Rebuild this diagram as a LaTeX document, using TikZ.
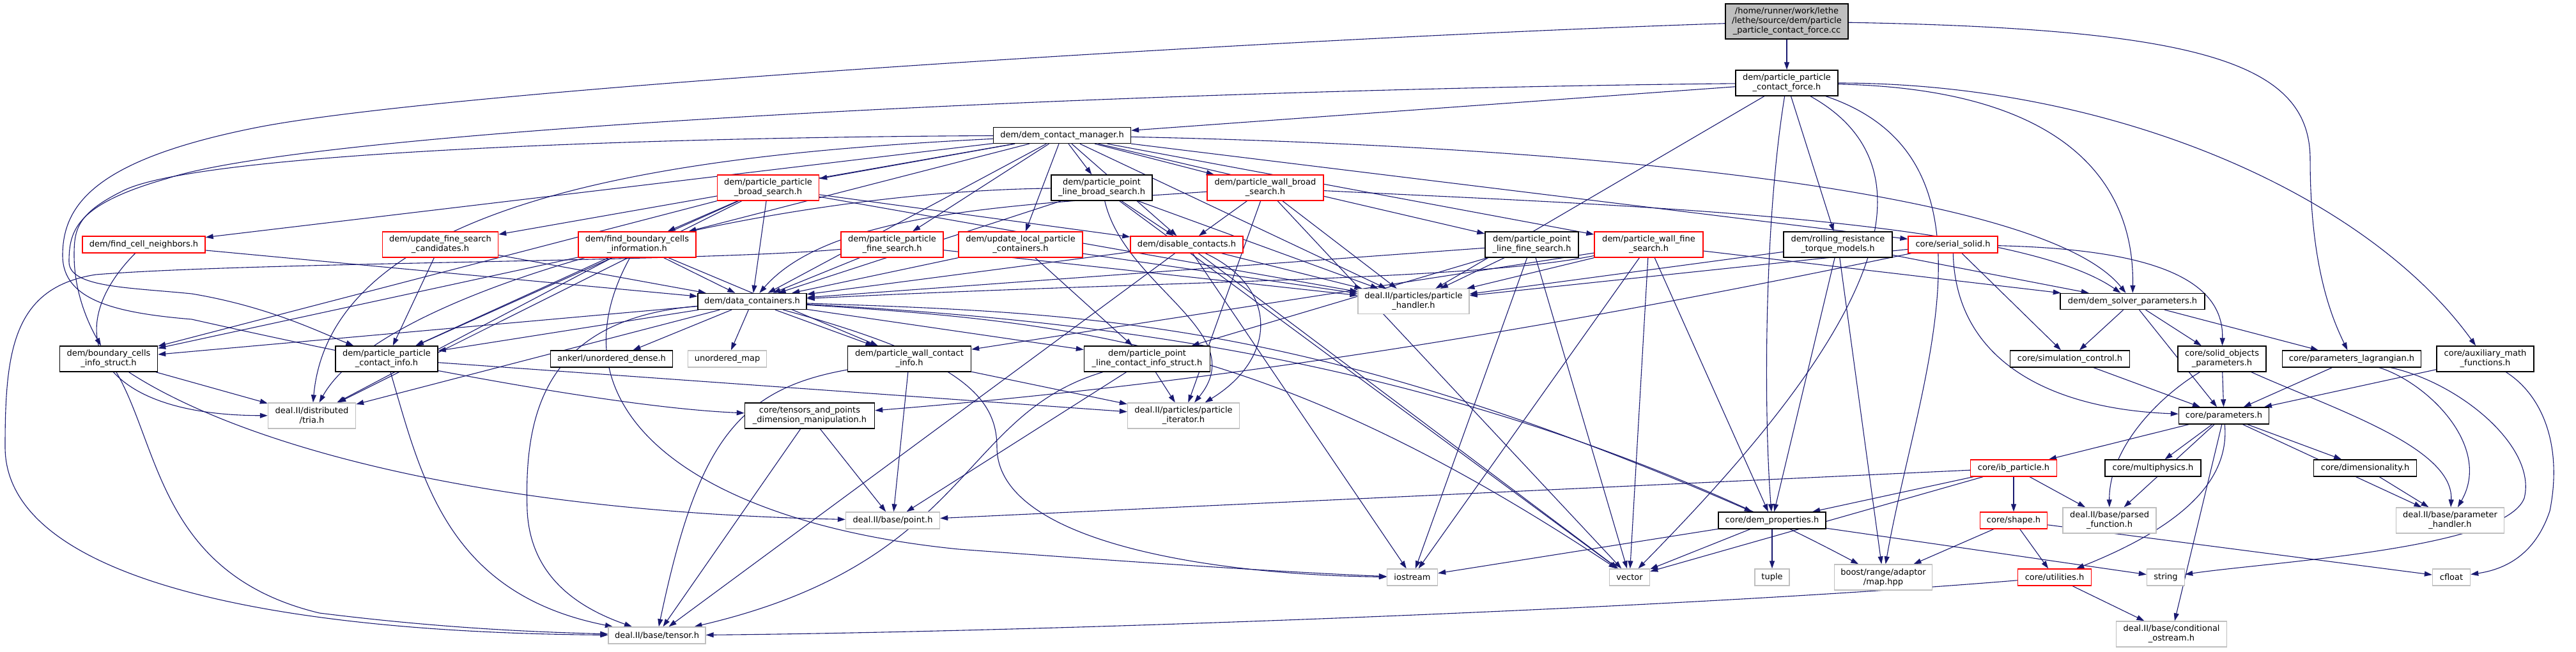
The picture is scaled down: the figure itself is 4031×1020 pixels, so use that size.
\documentclass[tikz,border=0pt]{standalone}
\usepackage{fontspec}
\setmainfont{DejaVu Sans}
\usetikzlibrary{arrows.meta}
\definecolor{edgec}{HTML}{191970}
\definecolor{ngray}{HTML}{BFBFBF}
\pgfdeclarelayer{bg}
\pgfsetlayers{bg,main}
\tikzset{
 nb/.style={draw=black, line width=1.4pt, fill=white, inner sep=0pt, align=center, font=\fontsize{13}{15}\selectfont, text=black},
 nr/.style={nb, draw=red},
 ng/.style={nb, draw=ngray},
 e/.style={draw=edgec, line width=1.1pt, -{Triangle[length=12pt,width=8pt]}},
}
\begin{document}
\begin{tikzpicture}[x=1pt,y=-1pt]
\useasboundingbox (0,0) rectangle (4031,1020);
% rank 0-2
\node[nb, fill=ngray, minimum width=192pt, minimum height=55pt] (cc) at (2796,33.5) {/home/runner/work/lethe\\/lethe/source/dem/particle\\\_particle\_contact\_force.cc};
\node[nb, minimum width=160pt, minimum height=40pt] (ppcf) at (2796,130) {dem/particle\_particle\\\_contact\_force.h};
\node[nb, minimum width=215pt, minimum height=25pt] (dcm) at (1662,212) {dem/dem\_contact\_manager.h};
% rank 3
\node[nr, minimum width=159pt, minimum height=40pt] (ppbs) at (1202,294) {dem/particle\_particle\\\_broad\_search.h};
\node[nb, minimum width=158pt, minimum height=40pt] (pplbs) at (1724,294) {dem/particle\_point\\\_line\_broad\_search.h};
\node[nr, minimum width=182pt, minimum height=40pt] (pwbs) at (1980,294) {dem/particle\_wall\_broad\\\_search.h};
% rank 4
\node[nr, minimum width=192pt, minimum height=26pt] (fcn) at (225,383) {dem/find\_cell\_neighbors.h};
\node[nr, minimum width=181pt, minimum height=40pt] (ufsc) at (689,383) {dem/update\_fine\_search\\\_candidates.h};
\node[nr, minimum width=184pt, minimum height=40pt] (fbci) at (997,383) {dem/find\_boundary\_cells\\\_information.h};
\node[nr, minimum width=160pt, minimum height=40pt] (ppfs) at (1396,383) {dem/particle\_particle\\\_fine\_search.h};
\node[nr, minimum width=194pt, minimum height=40pt] (ulpc) at (1597,383) {dem/update\_local\_particle\\\_containers.h};
\node[nr, minimum width=176pt, minimum height=26pt] (dc) at (1857,383) {dem/disable\_contacts.h};
\node[nb, minimum width=146pt, minimum height=40pt] (pplfs) at (2397,383) {dem/particle\_point\\\_line\_fine\_search.h};
\node[nr, minimum width=170pt, minimum height=40pt] (pwfs) at (2580,383) {dem/particle\_wall\_fine\\\_search.h};
\node[nb, minimum width=170pt, minimum height=40pt] (rrtm) at (2876,383) {dem/rolling\_resistance\\\_torque\_models.h};
\node[nr, minimum width=140pt, minimum height=26pt] (ss) at (3056,383) {core/serial\_solid.h};
% rank 5
\node[nb, minimum width=170pt, minimum height=25pt] (dcont) at (1177,472) {dem/data\_containers.h};
\node[ng, minimum width=174pt, minimum height=39pt] (ph) at (2212,472) {deal.II/particles/particle\\\_handler.h};
\node[nb, minimum width=226pt, minimum height=25pt] (dsp) at (3337,472) {dem/dem\_solver\_parameters.h};
% rank 6
\node[nb, minimum width=153pt, minimum height=40pt] (bcis) at (170,562) {dem/boundary\_cells\\\_info\_struct.h};
\node[nb, minimum width=160pt, minimum height=40pt] (ppci) at (605,562) {dem/particle\_particle\\\_contact\_info.h};
\node[nb, minimum width=191pt, minimum height=26pt] (aud) at (957,562) {ankerl/unordered\_dense.h};
\node[ng, minimum width=123pt, minimum height=26pt] (um) at (1138,562) {unordered\_map};
\node[nb, minimum width=193pt, minimum height=40pt] (pwci) at (1423,562) {dem/particle\_wall\_contact\\\_info.h};
\node[nb, minimum width=197pt, minimum height=40pt] (pplci) at (1795,562) {dem/particle\_point\\\_line\_contact\_info\_struct.h};
\node[nb, minimum width=187pt, minimum height=26pt] (sc) at (3239,562) {core/simulation\_control.h};
\node[nb, minimum width=138pt, minimum height=40pt] (sop) at (3477,562) {core/solid\_objects\\\_parameters.h};
\node[nb, minimum width=217pt, minimum height=26pt] (pl) at (3680,562) {core/parameters\_lagrangian.h};
\node[nb, minimum width=152pt, minimum height=40pt] (amf) at (3889,562) {core/auxiliary\_math\\\_functions.h};
% rank 7
\node[ng, minimum width=137pt, minimum height=40pt] (tria) at (488,651) {deal.II/distributed\\/tria.h};
\node[nb, minimum width=203pt, minimum height=40pt] (tpdm) at (1267,651) {core/tensors\_and\_points\\\_dimension\_manipulation.h};
\node[ng, minimum width=175pt, minimum height=40pt] (pi) at (1852,651) {deal.II/particles/particle\\\_iterator.h};
\node[nb, minimum width=141pt, minimum height=26pt] (par) at (3480,651) {core/parameters.h};
% rank 8
\node[nr, minimum width=135pt, minimum height=26pt] (ibp) at (3151,733) {core/ib\_particle.h};
\node[nb, minimum width=150pt, minimum height=26pt] (mp) at (3369,733) {core/multiphysics.h};
\node[nb, minimum width=161pt, minimum height=26pt] (dim) at (3701,733) {core/dimensionality.h};
% rank 9
\node[ng, minimum width=147pt, minimum height=26pt] (point) at (1397,815) {deal.II/base/point.h};
\node[nb, minimum width=168pt, minimum height=26pt] (demp) at (2773,815) {core/dem\_properties.h};
\node[nr, minimum width=105pt, minimum height=26pt] (shape) at (3151,815) {core/shape.h};
\node[ng, minimum width=146pt, minimum height=40pt] (pf) at (3301,815) {deal.II/base/parsed\\\_function.h};
\node[ng, minimum width=169pt, minimum height=40pt] (phh) at (3834,815) {deal.II/base/parameter\\\_handler.h};
% rank 10
\node[ng, minimum width=79pt, minimum height=26pt] (ios) at (2210,904) {iostream};
\node[ng, minimum width=63pt, minimum height=26pt] (vec) at (2550,904) {vector};
\node[ng, minimum width=54pt, minimum height=26pt] (tuple) at (2773,904) {tuple};
\node[ng, minimum width=153pt, minimum height=40pt] (boost) at (2947,904) {boost/range/adaptor\\/map.hpp};
\node[nr, minimum width=115pt, minimum height=26pt] (util) at (3215,904) {core/utilities.h};
\node[ng, minimum width=59pt, minimum height=26pt] (str) at (3389,904) {string};
\node[ng, minimum width=59pt, minimum height=26pt] (cfl) at (3836,904) {cfloat};
% rank 11
\node[ng, minimum width=173pt, minimum height=40pt] (cos) at (3398,993) {deal.II/base/conditional\\\_ostream.h};
\node[ng, minimum width=152pt, minimum height=26pt] (tensor) at (1028,995) {deal.II/base/tensor.h};

\begin{pgfonlayer}{bg}
% cc
\draw[e] (cc) -- (ppcf);
\draw[e] (cc) .. controls (3450,45) and (3615,100) .. (3615,250) .. controls (3615,420) and (3650,500) .. (pl);
\draw[e] (cc) .. controls (2000,60) and (700,140) .. (400,200) .. controls (150,250) and (98,320) .. (98,400) .. controls (98,470) and (180,490) .. (300,500) .. controls (700,590) and (1000,640) .. (tpdm);
% ppcf
\draw[e] (ppcf) -- (dcm);
\draw[e] (ppcf) .. controls (1800,140) and (500,200) .. (260,280) .. controls (120,320) and (108,360) .. (108,410) .. controls (108,450) and (200,450) .. (300,460) .. controls (420,480) and (500,520) .. (ppci);
\foreach \t in {ph,rrtm} \draw[e] (ppcf) -- (\t);
\draw[e] (ppcf) .. controls (2760,350) and (2760,650) .. (demp);
\draw[e] (ppcf) .. controls (3250,140) and (3340,300) .. (dsp);
\draw[e] (ppcf) .. controls (3300,130) and (3700,300) .. (amf);
\draw[e] (ppcf) .. controls (3150,250) and (3000,600) .. (boost);
\draw[e] (ppcf) .. controls (3100,300) and (2800,650) .. (vec);
% dcm
\foreach \t in {ppbs,pplbs,pwbs,fcn,ufsc,fbci,ppfs,ulpc,dc,pplfs,pwfs,ss,dcont,ph} \draw[e] (dcm) -- (\t);
\draw[e] (dcm) .. controls (2500,230) and (3200,300) .. (dsp);
\draw[e] (dcm) .. controls (1000,215) and (300,240) .. (190,300) .. controls (120,335) and (116,360) .. (116,400) .. controls (116,460) and (140,510) .. (bcis);
\draw[e] (dcm) .. controls (1100,240) and (520,300) .. (tria);
% ppbs
\foreach \t in {fbci,dc,dcont,ph,tria,bcis,ppci} \draw[e] (ppbs) -- (\t);
% pplbs
\foreach \t in {dc,dcont,ph,vec} \draw[e] (pplbs) -- (\t);
\draw[e] (pplbs) .. controls (1200,300) and (600,450) .. (tria);
\draw[e] (pplbs) .. controls (1760,450) and (1960,520) .. (pi);
% pwbs
\foreach \t in {dc,ph,pi,vec} \draw[e] (pwbs) -- (\t);
\draw[e] (pwbs) .. controls (1600,320) and (1300,330) .. (dcont);
\draw[e] (pwbs) .. controls (2500,320) and (3150,340) .. (dsp);
% fcn, ufsc, fbci, ppfs, ulpc
\draw[e] (fcn) -- (dcont);
\draw[e] (fcn) .. controls (90,520) and (150,650) .. (tria);
\draw[e] (ufsc) -- (dcont);
\draw[e] (ufsc) -- (ppci);
\foreach \t in {dcont,bcis,tria,ppci,pwci} \draw[e] (fbci) -- (\t);
\draw[e] (fbci) .. controls (850,650) and (1100,820) .. (1500,860) .. controls (1900,890) and (2100,900) .. (ios);
\draw[e] (ppfs) -- (dcont);
\draw[e] (ppfs) -- (ph);
\draw[e] (ppfs) .. controls (1100,410) and (400,410) .. (150,430) .. controls (20,450) and (8,550) .. (8,700) .. controls (8,900) and (400,990) .. (tensor);
\foreach \t in {dcont,pplci,ph} \draw[e] (ulpc) -- (\t);
% dc
\foreach \t in {dcont,ph,tensor,vec,ios} \draw[e] (dc) -- (\t);
\draw[e] (dc) .. controls (2000,450) and (2000,560) .. (pi);
% pplfs
\foreach \t in {ph,pplci,ios,vec,dcont} \draw[e] (pplfs) -- (\t);
% pwfs
\foreach \t in {ph,pwci,ios,vec,demp,dsp} \draw[e] (pwfs) -- (\t);
\draw[e] (pwfs) .. controls (2300,440) and (1800,440) .. (dcont);
% rrtm
\foreach \t in {ph,dsp,demp,boost} \draw[e] (rrtm) -- (\t);
% ss
\draw[e] (ss) -- (sc);
\draw[e] (ss) -- (ph);
\draw[e] (ss) .. controls (3060,560) and (3200,640) .. (par);
\draw[e] (ss) .. controls (3350,390) and (3480,430) .. (sop);
\draw[e] (ss) .. controls (2400,520) and (1900,600) .. (tpdm);
% dcont
\foreach \t in {bcis,ppci,tria,pwci,pplci,aud,um} \draw[e] (dcont) -- (\t);
\draw[e] (dcont) .. controls (850,500) and (820,650) .. (825,800) .. controls (830,900) and (900,950) .. (tensor);
\draw[e] (dcont) .. controls (1500,560) and (1560,620) .. (1560,700) .. controls (1560,850) and (1900,900) .. (ios);
\draw[e] (dcont) .. controls (1700,505) and (2000,540) .. (vec);
\draw[e] (dcont) .. controls (1700,490) and (2050,500) .. (demp);
\draw[e] (dcont) .. controls (1700,500) and (2300,560) .. (boost);
% dsp
\foreach \t in {sc,sop,pl,par} \draw[e] (dsp) -- (\t);
% bcis
\draw[e] (bcis) -- (tria);
\draw[e] (bcis) .. controls (250,700) and (250,900) .. (500,960) .. controls (700,985) and (850,990) .. (tensor);
\draw[e] (bcis) .. controls (350,680) and (700,800) .. (point);
% ppci
\draw[e] (ppci) .. controls (660,750) and (700,930) .. (tensor);
\draw[e] (ppci) -- (pi);
% pwci
\draw[e] (pwci) .. controls (1150,610) and (1090,700) .. (tensor);
\draw[e] (pwci) -- (point);
\draw[e] (pwci) -- (pi);
% pplci
\draw[e] (pplci) -- (point);
\draw[e] (pplci) -- (pi);
\draw[e] (pplci) .. controls (1500,650) and (1520,880) .. (tensor);
% tpdm
\draw[e] (tpdm) -- (tensor);
\draw[e] (tpdm) -- (point);
% sc, sop, pl, amf
\draw[e] (sc) -- (par);
\draw[e] (sop) -- (par);
\draw[e] (sop) .. controls (3380,620) and (3300,700) .. (pf);
\draw[e] (sop) .. controls (3650,640) and (3840,700) .. (phh);
\draw[e] (pl) -- (par);
\draw[e] (pl) .. controls (3800,600) and (3900,700) .. (phh);
\draw[e] (pl) .. controls (3850,600) and (3970,700) .. (3950,780) .. controls (3920,860) and (3550,880) .. (str);
\draw[e] (amf) -- (par);
\draw[e] (amf) .. controls (3980,620) and (4010,700) .. (3990,800) .. controls (3970,860) and (3930,890) .. (cfl);
% par
\foreach \t in {ibp,mp,dim,pf,phh,cos} \draw[e] (par) -- (\t);
\draw[e] (par) .. controls (3490,760) and (3400,830) .. (util);
% ibp
\foreach \t in {demp,shape,pf,vec,point} \draw[e] (ibp) -- (\t);
% dim
\draw[e] (dim) -- (phh);
% demp
\foreach \t in {ios,vec,tuple,str} \draw[e] (demp) -- (\t);
% shape
\foreach \t in {boost,util,cfl} \draw[e] (shape) -- (\t);
% util
\draw[e] (util) -- (cos);
\draw[e] (util) .. controls (2600,955) and (1600,990) .. (tensor);
\end{pgfonlayer}
\end{tikzpicture}
\end{document}
